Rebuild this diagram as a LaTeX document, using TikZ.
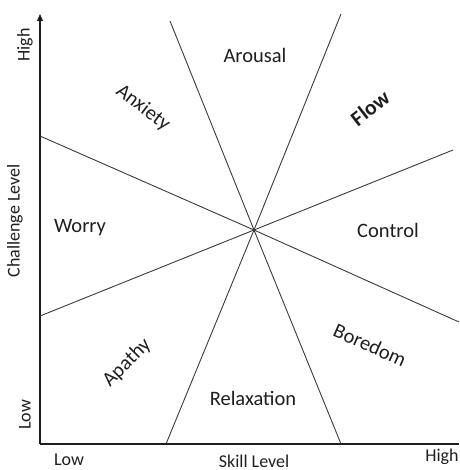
\documentclass[tikz,border=0pt]{standalone}
\usepackage{fontspec}
\setmainfont{Carlito}
\usetikzlibrary{arrows.meta}
\definecolor{ink}{HTML}{1E1E1E}
\definecolor{rule}{HTML}{3A3A3A}
\begin{document}
\begin{tikzpicture}[x=1pt,y=-1pt,
  region/.style={text=ink,font=\fontsize{20.5}{24}\selectfont,inner sep=0pt},
  axislabel/.style={text=ink,font=\fontsize{18}{21}\selectfont,inner sep=0pt},
  divider/.style={draw=rule,line width=0.9pt},
  axis/.style={draw=ink,line width=1.2pt}]
\useasboundingbox (0,0) rectangle (459,470);
% axes
\coordinate (origin) at (40,444);
\coordinate (ytop) at (40,14);
\coordinate (xend) at (459,444);
\draw[axis,-{Triangle[length=7pt,width=6pt]}] (origin) -- (ytop);
\draw[axis] (origin) -- (xend);
% dividing lines through the centre
\coordinate (c) at (254,230);
\coordinate (a1) at (40,136);   \coordinate (a2) at (459,322);
\coordinate (b1) at (40,316);   \coordinate (b2) at (453,150);
\coordinate (d1) at (170,21);   \coordinate (d2) at (341,444);
\coordinate (e1) at (341,14);   \coordinate (e2) at (166,444);
\draw[divider] (a1) -- (c) -- (a2);
\draw[divider] (b1) -- (c) -- (b2);
\draw[divider] (d1) -- (c) -- (d2);
\draw[divider] (e1) -- (c) -- (e2);
% region names
\node[region] (arousal) at (255,55) {Arousal};
\node[region,rotate=-37.5] (anxiety) at (143,108) {Anxiety};
\node[region,rotate=38,font=\fontsize{21.5}{25}\selectfont\bfseries] (flow) at (370,108) {Flow};
\node[region] (worry) at (80,228) {Worry};
\node[region] (control) at (388,230) {Control};
\node[region,rotate=45] (apathy) at (127,363) {Apathy};
\node[region] (relax) at (253,398) {Relaxation};
\node[region,rotate=-24] (boredom) at (370,345) {Boredom};
% axis labels
\node[axislabel,rotate=90] (yhigh) at (25,45) {High};
\node[axislabel,rotate=90] (ylabel) at (15,221) {Challenge Level};
\node[axislabel,rotate=90] (ylow) at (25,415) {Low};
\node[axislabel] (xlow) at (69,460) {Low};
\node[axislabel] (xlabel) at (254,461.5) {Skill Level};
\node[axislabel] (xhigh) at (442,457) {High};
\end{tikzpicture}
\end{document}
